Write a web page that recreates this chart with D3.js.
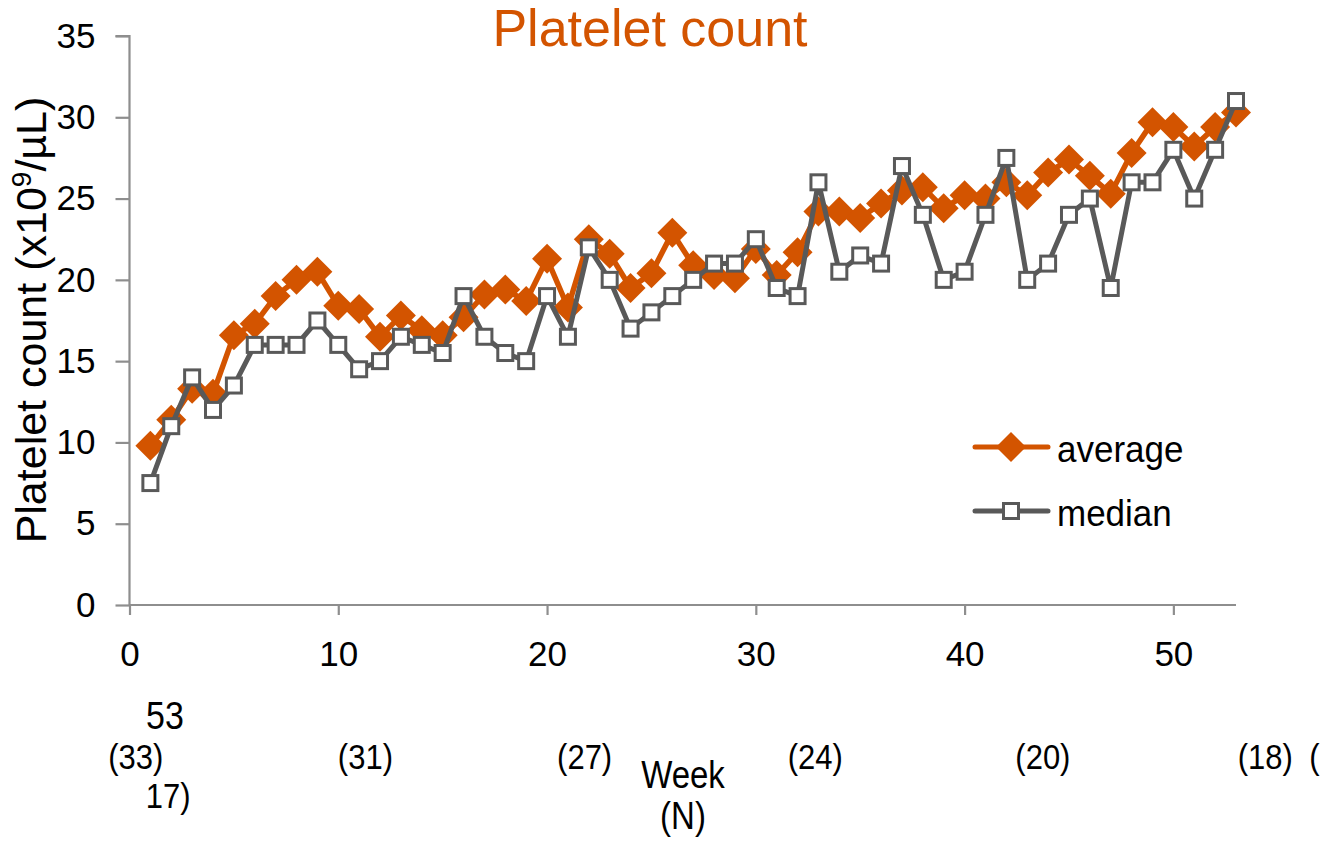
<!DOCTYPE html>
<html>
<head>
<meta charset="utf-8">
<script src="https://cdn.jsdelivr.net/npm/d3@7"></script>
<style>
  html, body { margin: 0; padding: 0; background: #fff; }
  svg { display: block; font-family: "Liberation Sans", Arial, sans-serif; }
</style>
</head>
<body>
<svg id="chart" width="1326" height="841"></svg>
<script>
// Weekly platelet counts (x10^9/µL)
const weeks = d3.range(1, 54);
const averageValues = [
  9.8, 11.4, 13.3, 13.0, 16.6, 17.3, 19.0, 20.0, 20.5, 18.4,
  18.2, 16.5, 17.8, 16.9, 16.6, 17.7, 19.1, 19.4, 18.7, 21.3,
  18.3, 22.5, 21.6, 19.5, 20.4, 22.9, 20.9, 20.3, 20.1, 21.9,
  20.3, 21.7, 24.2, 24.2, 23.8, 24.7, 25.5, 25.7, 24.4, 25.2,
  25.0, 26.0, 25.2, 26.6, 27.4, 26.4, 25.3, 27.8, 29.7, 29.4,
  28.2, 29.4, 30.3
];
const medianValues = [
  7.5, 11.0, 14.0, 12.0, 13.5, 16.0, 16.0, 16.0, 17.5, 16.0,
  14.5, 15.0, 16.5, 16.0, 15.5, 19.0, 16.5, 15.5, 15.0, 19.0,
  16.5, 22.0, 20.0, 17.0, 18.0, 19.0, 20.0, 21.0, 21.0, 22.5,
  19.5, 19.0, 26.0, 20.5, 21.5, 21.0, 27.0, 24.0, 20.0, 20.5,
  24.0, 27.5, 20.0, 21.0, 24.0, 25.0, 19.5, 26.0, 26.0, 28.0,
  25.0, 28.0, 31.0
];
const xTicks = [0, 10, 20, 30, 40, 50];
const yTicks = [0, 5, 10, 15, 20, 25, 30, 35];
// Number of patients under the week axis
const countLabels = [
  { text: "53",   x: 1.7,  row: 0, size: 34 },
  { text: "(33)", x: 0.3,  row: 1, size: 31 },
  { text: "17)",  x: 1.85, row: 2, size: 31 },
  { text: "(31)", x: 11.3, row: 1, size: 31 },
  { text: "(27)", x: 21.8, row: 1, size: 31 },
  { text: "(24)", x: 32.85, row: 1, size: 31 },
  { text: "(20)", x: 43.75, row: 1, size: 31 },
  { text: "(18)", x: 54.4, row: 1, size: 31 },
  { text: "(",    x: 56.75, row: 1, size: 31 }
];
const seriesNames = ["average", "median"];

const ORANGE = "#D35400";
const GREY = "#595959";
const AXIS = "#8e8e8e";

const svg = d3.select("#chart");
const x = d3.scaleLinear().domain([0, 53]).range([129.5, 1236]);
const y = d3.scaleLinear().domain([0, 35]).range([605, 36]);

// Axes
const yAxis = svg.append("g")
  .attr("transform", `translate(${x(0)},0)`)
  .call(d3.axisLeft(y).tickValues(yTicks).tickSize(14).tickPadding(20).tickFormat(d3.format("d")));
const xAxis = svg.append("g")
  .attr("transform", `translate(0,${y(0)})`)
  .call(d3.axisBottom(x).tickValues(xTicks).tickSize(10).tickPadding(26).tickFormat(d3.format("d")));
[yAxis, xAxis].forEach(g => {
  g.select(".domain").attr("stroke", AXIS).attr("stroke-width", 2.2);
  g.selectAll(".tick line").attr("stroke", AXIS).attr("stroke-width", 2.2);
  g.selectAll(".tick text").attr("fill", "#000").style("font-size", "35px")
    .style("font-family", "'Liberation Sans', Arial, sans-serif");
});
xAxis.select(".domain").attr("d", `M${x(0)},0H${x(53)}`);
yAxis.select(".domain").attr("d", `M0,${y(0)}V${y(35)}H-14`);

// Lines
const avgData = weeks.map((w, i) => ({ w, v: averageValues[i] }));
const medData = weeks.map((w, i) => ({ w, v: medianValues[i] }));
const line = d3.line().x(d => x(d.w)).y(d => y(d.v));

svg.append("path").datum(avgData).attr("d", line)
  .attr("fill", "none").attr("stroke", ORANGE).attr("stroke-width", 5.5).attr("stroke-linejoin", "round");
svg.append("g").selectAll("path").data(avgData).join("path")
  .attr("d", d3.symbol(d3.symbolSquare, 450))
  .attr("transform", d => `translate(${x(d.w)},${y(d.v)}) rotate(45)`)
  .attr("fill", ORANGE);

svg.append("path").datum(medData).attr("d", line)
  .attr("fill", "none").attr("stroke", GREY).attr("stroke-width", 5).attr("stroke-linejoin", "round");
svg.append("g").selectAll("rect").data(medData).join("rect")
  .attr("x", d => x(d.w) - 7.5).attr("y", d => y(d.v) - 7.5)
  .attr("width", 15).attr("height", 15)
  .attr("fill", "#fff").attr("stroke", GREY).attr("stroke-width", 3);

// Title
svg.append("text").attr("x", 650).attr("y", 46).attr("text-anchor", "middle")
  .attr("fill", ORANGE).style("font-size", "52px").text("Platelet count");

// Y-axis title
const yt = svg.append("text").attr("transform", "translate(46,320) rotate(-90)")
  .attr("text-anchor", "middle").attr("fill", "#000").style("font-size", "43px");
yt.append("tspan").text("Platelet count (x10");
yt.append("tspan").attr("dy", -15).style("font-size", "28px").text("9");
yt.append("tspan").attr("dy", 15).text("/µL)");

// Legend
const legend = svg.append("g");
const legendRows = [
  { name: seriesNames[0], y: 447 },
  { name: seriesNames[1], y: 511 }
];
legendRows.forEach((r, i) => {
  legend.append("line").attr("x1", 975).attr("x2", 1048).attr("y1", r.y).attr("y2", r.y)
    .attr("stroke", i === 0 ? ORANGE : GREY).attr("stroke-width", 5).attr("stroke-linecap", "round");
  if (i === 0) {
    legend.append("path").attr("d", d3.symbol(d3.symbolSquare, 450))
      .attr("transform", `translate(1011,${r.y}) rotate(45)`).attr("fill", ORANGE);
  } else {
    legend.append("rect").attr("x", 1011 - 7.5).attr("y", r.y - 7.5).attr("width", 15).attr("height", 15)
      .attr("fill", "#fff").attr("stroke", GREY).attr("stroke-width", 3);
  }
  legend.append("text").attr("transform", `translate(1057,${r.y + 15}) scale(1,1.08)`).attr("fill", "#000")
    .style("font-size", "35px").text(r.name);
});

// Week / N labels (slightly tall glyphs)
const rowY = [729, 769, 808];
svg.append("g").selectAll("text").data(countLabels).join("text")
  .attr("transform", d => `translate(${x(d.x)},${rowY[d.row]}) scale(1,1.15)`)
  .attr("text-anchor", "middle")
  .attr("fill", "#000").style("font-size", d => d.size + "px").text(d => d.text);
svg.append("text").attr("transform", "translate(683,788) scale(1,1.15)").attr("text-anchor", "middle")
  .style("font-size", "33px").text("Week");
svg.append("text").attr("transform", "translate(683,829) scale(1,1.15)").attr("text-anchor", "middle")
  .style("font-size", "33px").text("(N)");
</script>
</body>
</html>
